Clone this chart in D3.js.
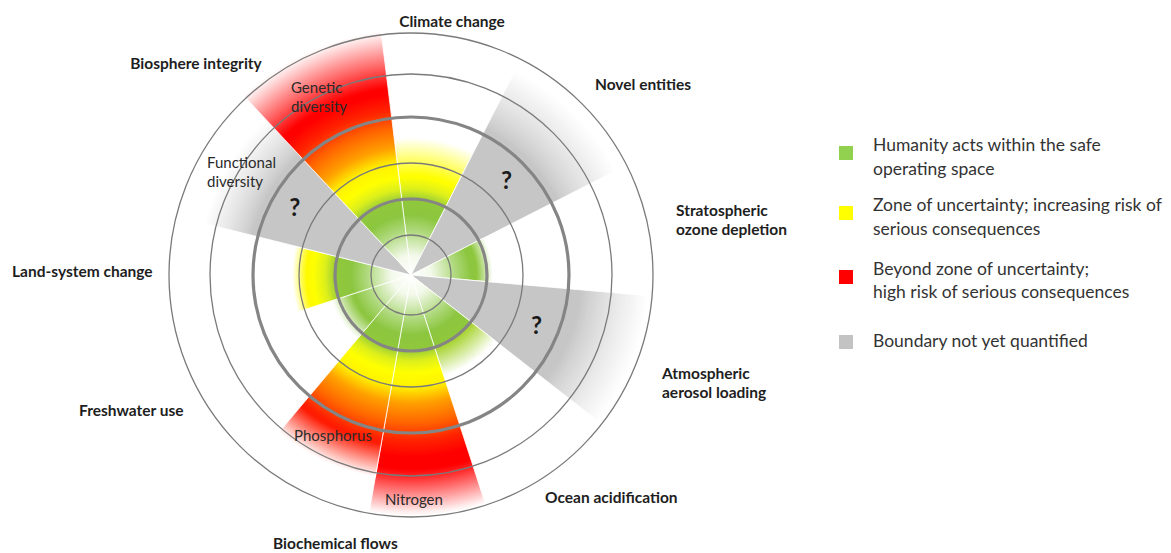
<!DOCTYPE html>
<html><head><meta charset="utf-8">
<script src="https://cdn.jsdelivr.net/npm/d3@7"></script>
<style>body{margin:0;background:#fff}svg{display:block}</style>
</head><body>
<svg id="chart" width="1171" height="553"></svg>
<script>
// ---- data ----
const categories = ["Climate change", "Novel entities", "Stratospheric ozone depletion",
  "Atmospheric aerosol loading", "Ocean acidification", "Nitrogen", "Phosphorus",
  "Freshwater use", "Land-system change", "Functional diversity", "Genetic diversity"];
const sectorSpan = [34, 36, 32, 33, 34, 28, 30, 32, 32, 33, 36];      // degrees
const statusLevel = [2.65, 4.15, 1.72, 4.3, 2.05, 4.85, 4.3, 1.6, 2.8, 4.15, 4.7]; // ring units
const extentLevel = [3.55, 5.7, 2.15, 5.9, 2.85, 5.95, 5.1, 2.2, 3.15, 5.3, 6.08];
const quantified = [true, false, true, false, true, true, true, true, true, false, true];
const ringLevels = [1, 2, 3, 4, 5, 6];
const thickRings = [2, 4];
const boundaryLabels = [["Climate change"], ["Biosphere integrity"], ["Novel entities"],
  ["Stratospheric", "ozone depletion"], ["Land-system change"], ["Atmospheric", "aerosol loading"],
  ["Freshwater use"], ["Ocean acidification"], ["Biochemical flows"]];
const subLabels = [["Genetic", "diversity"], ["Functional", "diversity"], ["Phosphorus"], ["Nitrogen"]];
const legendLabels = [["Humanity acts within the safe", "operating space"],
  ["Zone of uncertainty; increasing risk of", "serious consequences"],
  ["Beyond zone of uncertainty;", "high risk of serious consequences"],
  ["Boundary not yet quantified"]];
const legendColors = ["#92d050", "#ffff00", "#ff0000", "#c3c3c3"];

// ---- layout ----
const cx = 411, cy = 275, startDeg = -7;
const labelLayout = [[452, 27, "middle"], [196, 69, "middle"], [595, 90, "start"], [676, 216, "start"],
  [12, 277, "start"], [662, 379, "start"], [79, 416, "start"], [545, 503, "start"], [273, 549, "start"]];
const subLayout = [[291, 93], [207, 168], [294, 441], [385, 505]];
const legendSquareY = [153, 213, 277, 342];
const legendTextY = [[151, 175], [211, 235], [275, 298], [347]];

const svg = d3.select("#chart");
const defs = svg.append("defs");
const g = svg.append("g").attr("transform", `translate(${cx},${cy})`);

const rScale = d3.scaleLinear().domain([0, 1, 2, 3, 4, 5, 6]).range([0, 40, 76, 112, 158, 201, 242]);
const zoneRamp = d3.scaleLinear()
  .domain([0, 20, 45, 60, 74, 86, 98, 112, 128, 148, 166, 182])
  .range(["#ffffff", "#f3f9ea", "#add87a", "#8cc63f", "#90c83c", "#dcef1c", "#ffff00", "#fff200",
          "#ffa000", "#ff6400", "#ff2200", "#ff0000"])
  .clamp(true);
const greyTone = "#c6c6c6";

const ends = d3.cumsum(sectorSpan);
const sectors = categories.map((c, i) => ({
  name: c, i,
  a0: (startDeg + ends[i] - sectorSpan[i]) * Math.PI / 180,
  a1: (startDeg + ends[i]) * Math.PI / 180,
  status: rScale(statusLevel[i]), extent: rScale(extentLevel[i]), quantified: quantified[i]
}));

sectors.forEach(s => {
  const grad = defs.append("radialGradient").attr("id", "grad" + s.i)
    .attr("gradientUnits", "userSpaceOnUse").attr("cx", 0).attr("cy", 0).attr("r", s.extent);
  const base = s.quantified ? zoneRamp(s.status) : greyTone;
  for (let r = 0; r <= s.extent + 0.01; r += 2) {
    let col;
    if (r <= s.status) col = s.quantified ? zoneRamp(r) : greyTone;
    else {
      const t = (r - s.status) / (s.extent - s.status);
      col = d3.interpolateRgb(base, "#ffffff")(s.quantified ? t : Math.pow(t, 0.8));
    }
    grad.append("stop").attr("offset", Math.min(1, r / s.extent)).attr("stop-color", col);
  }
});

const arc = d3.arc().innerRadius(0);
g.selectAll("path.sector").data(sectors).join("path")
  .attr("class", "sector")
  .attr("d", d => arc({outerRadius: d.extent, startAngle: d.a0, endAngle: d.a1}))
  .attr("fill", d => `url(#grad${d.i})`)
  .attr("stroke", "#ffffff").attr("stroke-width", 0.8);

g.selectAll("circle.ring").data(ringLevels).join("circle")
  .attr("class", "ring").attr("r", d => rScale(d)).attr("fill", "none")
  .attr("stroke", d => thickRings.includes(d) ? "#858585" : "#7a7a7a")
  .attr("stroke-width", d => thickRings.includes(d) ? 3.2 : 1.3);

// question marks on unquantified sectors
g.selectAll("text.q").data(sectors.filter(s => !s.quantified)).join("text")
  .attr("class", "q")
  .attr("x", d => rScale(3.5) * Math.sin((d.a0 + d.a1) / 2))
  .attr("y", d => -rScale(3.5) * Math.cos((d.a0 + d.a1) / 2))
  .attr("text-anchor", "middle").attr("dominant-baseline", "central")
  .attr("font-family", "Lato, sans-serif").attr("font-weight", 700).attr("font-size", 24)
  .attr("fill", "#1a1a1a").text("?");

// boundary labels
boundaryLabels.forEach((lines, i) => {
  const [x, y, anchor] = labelLayout[i];
  const t = svg.append("text").attr("x", x).attr("y", y).attr("text-anchor", anchor)
    .attr("font-family", "Lato, sans-serif").attr("font-weight", 700).attr("font-size", 15.5)
    .attr("fill", "#1e1e1e");
  lines.forEach((ln, j) => t.append("tspan").attr("x", x).attr("dy", j ? 19 : 0).text(ln));
});

subLabels.forEach((lines, i) => {
  const [x, y] = subLayout[i];
  const t = svg.append("text").attr("x", x).attr("y", y)
    .attr("font-family", "Lato, sans-serif").attr("font-size", 15).attr("fill", "#2a2a2a");
  lines.forEach((ln, j) => t.append("tspan").attr("x", x).attr("dy", j ? 19 : 0).text(ln));
});

// legend
const lg = svg.append("g");
legendLabels.forEach((lines, i) => {
  lg.append("rect").attr("x", 839).attr("y", legendSquareY[i] - 7).attr("width", 14).attr("height", 14)
    .attr("fill", legendColors[i]);
  lines.forEach((ln, j) => lg.append("text").attr("x", 873).attr("y", legendTextY[i][j])
    .attr("font-family", "Lato, sans-serif").attr("font-size", 17.5).attr("fill", "#333333").text(ln));
});
</script>
</body></html>
